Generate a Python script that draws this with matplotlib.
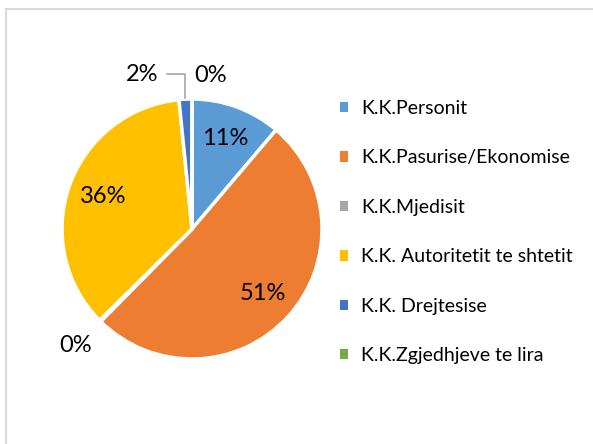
import numpy as np
import matplotlib
matplotlib.use("Agg")
import matplotlib.pyplot as plt
from matplotlib.patches import Patch, Rectangle
from matplotlib.lines import Line2D

categories = ["K.K.Personit", "K.K.Pasurise/Ekonomise", "K.K.Mjedisit",
              "K.K. Autoritetit te shtetit", "K.K. Drejtesise", "K.K.Zgjedhjeve te lira"]
values = [11.2, 51.2, 0.2, 35.8, 1.6, 0.0]
colors = ["#5B9BD5", "#ED7D31", "#A5A5A5", "#FFC000", "#4472C4", "#70AD47"]

W, H = 593, 444
fig = plt.figure(figsize=(W / 100, H / 100), dpi=100)
plt.rcParams['font.family'] = ['Lato', 'DejaVu Sans']

# chart frame (only top/left visible)
fig.patches.append(Rectangle((6 / W, -0.1), 1.2, 1 - 9 / H + 0.1, transform=fig.transFigure,
                             fill=False, edgecolor="#D9D9D9", linewidth=1.5))

cx, cy, R = 192, 229, 130
ax = fig.add_axes([(cx - R) / W, (H - cy - R) / H, 2 * R / W, 2 * R / H])

wedges, _ = ax.pie(values, colors=colors, startangle=90, counterclock=False, radius=1,
                   wedgeprops=dict(edgecolor="white", linewidth=2.5))
ax.set_xlim(-1, 1)
ax.set_ylim(-1, 1)
ax.axis("off")

total = sum(values)
pct = [v / total * 100 for v in values]
labels_txt = ["%d%%" % int(round(p)) for p in pct]

# label positions (fraction of radius, angle offset in degrees) per slice
label_r = [0.74, 0.74, 1.27, 0.73, 1.25, 1.19]
label_da = [0, 0, 0, 0, 15, -7]
for i, w in enumerate(wedges):
    mid = np.deg2rad((w.theta1 + w.theta2) / 2 + label_da[i])
    x, y = label_r[i] * np.cos(mid), label_r[i] * np.sin(mid)
    ax.text(x, y, labels_txt[i], ha="center", va="center", fontsize=17, color="#000000", clip_on=False)
    if i == 4:
        m0 = np.deg2rad((w.theta1 + w.theta2) / 2)
        ex, ey = np.cos(m0), np.sin(m0)
        ax.add_line(Line2D([x + 0.19, ex, ex], [y, y, ey + 0.01], color="#A6A6A6",
                           linewidth=1.2, clip_on=False))

handles = [Patch(facecolor=c, edgecolor="none") for c in colors]
fig.legend(handles, categories, loc="upper left", bbox_to_anchor=(340 / W, 1 - 100 / H),
           frameon=False, fontsize=14, labelspacing=1.67, handlelength=0.42, handleheight=0.42,
           handletextpad=0.65, borderpad=0, borderaxespad=0)

fig.savefig("out.png", dpi=100, facecolor="white")
